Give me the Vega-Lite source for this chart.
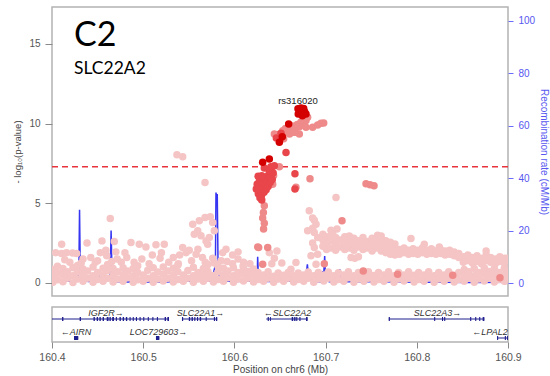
{
"$schema": "https://vega.github.io/schema/vega-lite/v6.json",
"padding": {"left": 12, "top": 6, "right": 0, "bottom": 0},
"background": "white",
"spacing": 9,
"config": {
  "view": {"stroke": "#b3b3b3", "strokeWidth": 1.5},
  "axis": {"labelFont": "Liberation Sans", "titleFont": "Liberation Sans", "titleFontWeight": "normal", "labelFlush": false, "grid": false, "domain": false},
  "font": "Liberation Sans"
},
"datasets": {
  "recomb": [
    {"p":160.400,"rate":0.6},{"p":160.410,"rate":0.8},{"p":160.420,"rate":0.7},{"p":160.428,"rate":1.0},
    {"p":160.4295,"rate":5},{"p":160.4302,"rate":28},{"p":160.4310,"rate":5.5},{"p":160.4318,"rate":1},
    {"p":160.440,"rate":0.6},{"p":160.450,"rate":0.8},{"p":160.4535,"rate":3.4},{"p":160.4545,"rate":0.8},
    {"p":160.4635,"rate":1.0},{"p":160.4642,"rate":9.5},{"p":160.4648,"rate":20},{"p":160.4655,"rate":9},{"p":160.4662,"rate":1.2},
    {"p":160.470,"rate":0.5},{"p":160.480,"rate":0.4},{"p":160.490,"rate":0.5},{"p":160.500,"rate":0.4},{"p":160.510,"rate":0.5},
    {"p":160.520,"rate":0.3},{"p":160.530,"rate":0.5},{"p":160.540,"rate":0.6},{"p":160.550,"rate":0.8},{"p":160.560,"rate":0.7},
    {"p":160.5655,"rate":1.0},{"p":160.5662,"rate":4},{"p":160.5670,"rate":0.8},{"p":160.575,"rate":0.9},
    {"p":160.5792,"rate":7},{"p":160.5798,"rate":34.5},{"p":160.5806,"rate":33},{"p":160.5812,"rate":34},{"p":160.5820,"rate":9},
    {"p":160.5826,"rate":8},{"p":160.5832,"rate":1},{"p":160.590,"rate":0.8},{"p":160.600,"rate":0.6},{"p":160.610,"rate":0.7},
    {"p":160.620,"rate":0.8},{"p":160.6250,"rate":1},{"p":160.6255,"rate":10},{"p":160.6260,"rate":5.5},{"p":160.6265,"rate":1},
    {"p":160.635,"rate":0.6},{"p":160.645,"rate":0.6},{"p":160.655,"rate":0.8},{"p":160.665,"rate":0.6},{"p":160.6668,"rate":2},
    {"p":160.6680,"rate":0.6},{"p":160.677,"rate":0.7},{"p":160.6785,"rate":2.7},{"p":160.6800,"rate":7.1},{"p":160.6815,"rate":2},
    {"p":160.690,"rate":0.5},{"p":160.6960,"rate":0.5},{"p":160.6968,"rate":4.6},{"p":160.6975,"rate":0.5},{"p":160.6990,"rate":10.3},
    {"p":160.7000,"rate":0.5},{"p":160.7030,"rate":5.2},{"p":160.7040,"rate":0.5},{"p":160.7150,"rate":0.5},{"p":160.7155,"rate":5.3},
    {"p":160.7162,"rate":0.5},{"p":160.756,"rate":0.5},{"p":160.7565,"rate":3.9},{"p":160.7572,"rate":0.5},{"p":160.7845,"rate":0.4},
    {"p":160.7850,"rate":3.9},{"p":160.7858,"rate":0.4},{"p":160.800,"rate":0.3},{"p":160.830,"rate":0.3},{"p":160.860,"rate":0.2},{"p":160.900,"rate":0.3}
  ],
  "snps": [
    {"p":160.401,"l":0.05,"r":"a"},{"p":160.401,"l":0.42,"r":"a"},{"p":160.401,"l":0.85,"r":"a"},
    {"p":160.406,"l":0.2,"r":"a"},{"p":160.406,"l":0.62,"r":"a"},{"p":160.406,"l":1.05,"r":"a"},
    {"p":160.412,"l":0.08,"r":"a"},{"p":160.412,"l":0.5,"r":"a"},{"p":160.412,"l":0.9,"r":"a"},
    {"p":160.417,"l":0.3,"r":"a"},{"p":160.417,"l":0.7,"r":"a"},
    {"p":160.423,"l":0.02,"r":"a"},{"p":160.423,"l":0.45,"r":"a"},{"p":160.423,"l":0.95,"r":"a"},
    {"p":160.428,"l":0.25,"r":"a"},{"p":160.428,"l":0.68,"r":"a"},{"p":160.428,"l":1.1,"r":"a"},
    {"p":160.434,"l":0.1,"r":"a"},{"p":160.434,"l":0.5,"r":"a"},{"p":160.434,"l":0.88,"r":"a"},
    {"p":160.439,"l":0.3,"r":"a"},{"p":160.439,"l":0.75,"r":"a"},
    {"p":160.445,"l":0.05,"r":"a"},{"p":160.445,"l":0.45,"r":"a"},{"p":160.445,"l":1.0,"r":"a"},
    {"p":160.450,"l":0.22,"r":"a"},{"p":160.450,"l":0.65,"r":"a"},
    {"p":160.456,"l":0.1,"r":"a"},{"p":160.456,"l":0.5,"r":"a"},{"p":160.456,"l":0.92,"r":"a"},
    {"p":160.461,"l":0.3,"r":"a"},{"p":160.461,"l":0.78,"r":"a"},{"p":160.461,"l":1.15,"r":"a"},
    {"p":160.467,"l":0.06,"r":"a"},{"p":160.467,"l":0.48,"r":"a"},{"p":160.467,"l":0.9,"r":"a"},
    {"p":160.472,"l":0.25,"r":"a"},{"p":160.472,"l":0.7,"r":"a"},
    {"p":160.478,"l":0.1,"r":"a"},{"p":160.478,"l":0.52,"r":"a"},{"p":160.478,"l":0.95,"r":"a"},
    {"p":160.483,"l":0.32,"r":"a"},{"p":160.483,"l":0.75,"r":"a"},
    {"p":160.489,"l":0.04,"r":"a"},{"p":160.489,"l":0.45,"r":"a"},{"p":160.489,"l":0.9,"r":"a"},
    {"p":160.494,"l":0.2,"r":"a"},{"p":160.494,"l":0.66,"r":"a"},{"p":160.494,"l":1.08,"r":"a"},
    {"p":160.500,"l":0.1,"r":"a"},{"p":160.500,"l":0.5,"r":"a"},
    {"p":160.505,"l":0.3,"r":"a"},{"p":160.505,"l":0.8,"r":"a"},
    {"p":160.511,"l":0.05,"r":"a"},{"p":160.511,"l":0.45,"r":"a"},{"p":160.511,"l":0.95,"r":"a"},
    {"p":160.516,"l":0.25,"r":"a"},{"p":160.516,"l":0.68,"r":"a"},
    {"p":160.522,"l":0.12,"r":"a"},{"p":160.522,"l":0.55,"r":"a"},{"p":160.522,"l":1.0,"r":"a"},
    {"p":160.527,"l":0.3,"r":"a"},{"p":160.527,"l":0.75,"r":"a"},
    {"p":160.533,"l":0.06,"r":"a"},{"p":160.533,"l":0.48,"r":"a"},{"p":160.533,"l":0.92,"r":"a"},
    {"p":160.538,"l":0.22,"r":"a"},{"p":160.538,"l":0.7,"r":"a"},{"p":160.538,"l":1.12,"r":"a"},
    {"p":160.544,"l":0.1,"r":"a"},{"p":160.544,"l":0.5,"r":"a"},
    {"p":160.549,"l":0.3,"r":"a"},{"p":160.549,"l":0.78,"r":"a"},
    {"p":160.555,"l":0.05,"r":"a"},{"p":160.555,"l":0.45,"r":"a"},{"p":160.555,"l":0.98,"r":"a"},
    {"p":160.560,"l":0.25,"r":"a"},{"p":160.560,"l":0.65,"r":"a"},
    {"p":160.566,"l":0.1,"r":"a"},{"p":160.566,"l":0.52,"r":"a"},{"p":160.566,"l":0.9,"r":"a"},
    {"p":160.571,"l":0.3,"r":"a"},{"p":160.571,"l":0.72,"r":"a"},{"p":160.571,"l":1.15,"r":"a"},
    {"p":160.577,"l":0.06,"r":"a"},{"p":160.577,"l":0.46,"r":"a"},
    {"p":160.582,"l":0.22,"r":"a"},{"p":160.582,"l":0.68,"r":"a"},{"p":160.582,"l":1.05,"r":"a"},
    {"p":160.588,"l":0.1,"r":"a"},{"p":160.588,"l":0.5,"r":"a"},{"p":160.588,"l":0.92,"r":"a"},
    {"p":160.593,"l":0.32,"r":"a"},{"p":160.593,"l":0.75,"r":"a"},
    {"p":160.599,"l":0.05,"r":"a"},{"p":160.599,"l":0.45,"r":"a"},{"p":160.599,"l":0.95,"r":"a"},
    {"p":160.604,"l":0.25,"r":"a"},{"p":160.604,"l":0.65,"r":"a"},
    {"p":160.610,"l":0.12,"r":"a"},{"p":160.610,"l":0.55,"r":"a"},{"p":160.610,"l":0.9,"r":"a"},
    {"p":160.615,"l":0.3,"r":"a"},{"p":160.615,"l":0.72,"r":"a"},
    {"p":160.621,"l":0.06,"r":"a"},{"p":160.621,"l":0.48,"r":"a"},{"p":160.621,"l":0.88,"r":"a"},
    {"p":160.626,"l":0.22,"r":"a"},{"p":160.626,"l":0.66,"r":"a"},
    {"p":160.632,"l":0.1,"r":"a"},{"p":160.632,"l":0.5,"r":"a"},
    {"p":160.637,"l":0.3,"r":"a"},{"p":160.637,"l":0.7,"r":"a"},
    {"p":160.643,"l":0.05,"r":"a"},{"p":160.643,"l":0.42,"r":"a"},
    {"p":160.648,"l":0.25,"r":"a"},{"p":160.648,"l":0.62,"r":"a"},
    {"p":160.654,"l":0.1,"r":"a"},{"p":160.654,"l":0.48,"r":"a"},
    {"p":160.659,"l":0.3,"r":"a"},{"p":160.659,"l":0.66,"r":"a"},
    {"p":160.665,"l":0.06,"r":"a"},{"p":160.665,"l":0.45,"r":"a"},
    {"p":160.670,"l":0.22,"r":"a"},{"p":160.670,"l":0.62,"r":"a"},
    {"p":160.676,"l":0.1,"r":"a"},{"p":160.676,"l":0.5,"r":"a"},
    {"p":160.681,"l":0.3,"r":"a"},{"p":160.681,"l":0.68,"r":"a"},
    {"p":160.687,"l":0.05,"r":"a"},{"p":160.687,"l":0.45,"r":"a"},
    {"p":160.692,"l":0.25,"r":"a"},{"p":160.692,"l":0.65,"r":"a"},
    {"p":160.698,"l":0.12,"r":"a"},{"p":160.698,"l":0.5,"r":"a"},
    {"p":160.703,"l":0.3,"r":"a"},{"p":160.703,"l":0.68,"r":"a"},
    {"p":160.709,"l":0.06,"r":"a"},{"p":160.709,"l":0.45,"r":"a"},
    {"p":160.714,"l":0.22,"r":"a"},{"p":160.714,"l":0.64,"r":"a"},
    {"p":160.720,"l":0.1,"r":"a"},{"p":160.720,"l":0.5,"r":"a"},
    {"p":160.725,"l":0.32,"r":"a"},{"p":160.725,"l":0.7,"r":"a"},
    {"p":160.731,"l":0.05,"r":"a"},{"p":160.731,"l":0.45,"r":"a"},
    {"p":160.736,"l":0.25,"r":"a"},{"p":160.736,"l":0.65,"r":"a"},
    {"p":160.742,"l":0.1,"r":"a"},{"p":160.742,"l":0.5,"r":"a"},
    {"p":160.747,"l":0.3,"r":"a"},{"p":160.747,"l":0.7,"r":"a"},
    {"p":160.753,"l":0.06,"r":"a"},{"p":160.753,"l":0.46,"r":"a"},
    {"p":160.758,"l":0.22,"r":"a"},{"p":160.758,"l":0.66,"r":"a"},
    {"p":160.764,"l":0.1,"r":"a"},{"p":160.764,"l":0.5,"r":"a"},
    {"p":160.769,"l":0.3,"r":"a"},{"p":160.769,"l":0.7,"r":"a"},
    {"p":160.775,"l":0.05,"r":"a"},{"p":160.775,"l":0.45,"r":"a"},
    {"p":160.780,"l":0.25,"r":"a"},{"p":160.780,"l":0.65,"r":"a"},
    {"p":160.786,"l":0.12,"r":"a"},{"p":160.786,"l":0.5,"r":"a"},
    {"p":160.791,"l":0.3,"r":"a"},{"p":160.791,"l":0.7,"r":"a"},
    {"p":160.797,"l":0.06,"r":"a"},{"p":160.797,"l":0.48,"r":"a"},
    {"p":160.802,"l":0.22,"r":"a"},{"p":160.802,"l":0.66,"r":"a"},
    {"p":160.808,"l":0.1,"r":"a"},{"p":160.808,"l":0.5,"r":"a"},
    {"p":160.813,"l":0.32,"r":"a"},{"p":160.813,"l":0.7,"r":"a"},
    {"p":160.819,"l":0.05,"r":"a"},{"p":160.819,"l":0.45,"r":"a"},
    {"p":160.824,"l":0.25,"r":"a"},{"p":160.824,"l":0.65,"r":"a"},
    {"p":160.830,"l":0.1,"r":"a"},{"p":160.830,"l":0.5,"r":"a"},
    {"p":160.835,"l":0.3,"r":"a"},{"p":160.835,"l":0.7,"r":"a"},
    {"p":160.841,"l":0.06,"r":"a"},{"p":160.841,"l":0.46,"r":"a"},
    {"p":160.846,"l":0.22,"r":"a"},{"p":160.846,"l":0.66,"r":"a"},
    {"p":160.852,"l":0.1,"r":"a"},{"p":160.852,"l":0.5,"r":"a"},{"p":160.852,"l":0.85,"r":"a"},
    {"p":160.857,"l":0.3,"r":"a"},{"p":160.857,"l":0.7,"r":"a"},
    {"p":160.863,"l":0.05,"r":"a"},{"p":160.863,"l":0.45,"r":"a"},{"p":160.863,"l":0.9,"r":"a"},
    {"p":160.868,"l":0.25,"r":"a"},{"p":160.868,"l":0.65,"r":"a"},
    {"p":160.874,"l":0.12,"r":"a"},{"p":160.874,"l":0.55,"r":"a"},{"p":160.874,"l":0.95,"r":"a"},
    {"p":160.879,"l":0.3,"r":"a"},{"p":160.879,"l":0.72,"r":"a"},
    {"p":160.885,"l":0.06,"r":"a"},{"p":160.885,"l":0.48,"r":"a"},{"p":160.885,"l":0.9,"r":"a"},
    {"p":160.890,"l":0.22,"r":"a"},{"p":160.890,"l":0.66,"r":"a"},
    {"p":160.896,"l":0.1,"r":"a"},{"p":160.896,"l":0.5,"r":"a"},{"p":160.896,"l":0.92,"r":"a"},
    {"p":160.899,"l":0.3,"r":"a"},{"p":160.899,"l":0.75,"r":"a"},

    {"p":160.4040,"l":1.9,"r":"a"},{"p":160.4106,"l":2.43,"r":"a"},{"p":160.4105,"l":1.85,"r":"a"},{"p":160.4160,"l":1.9,"r":"a"},
    {"p":160.4225,"l":1.88,"r":"a"},{"p":160.4270,"l":1.85,"r":"a"},{"p":160.4340,"l":1.5,"r":"a"},{"p":160.4384,"l":2.5,"r":"a"},
    {"p":160.4425,"l":1.6,"r":"a"},{"p":160.4475,"l":1.3,"r":"a"},{"p":160.4548,"l":2.64,"r":"a"},{"p":160.4600,"l":1.7,"r":"a"},
    {"p":160.4590,"l":2.05,"r":"a"},{"p":160.4639,"l":4.05,"r":"a"},{"p":160.4655,"l":1.35,"r":"a"},{"p":160.4683,"l":2.6,"r":"a"},
    {"p":160.4700,"l":1.95,"r":"a"},{"p":160.4715,"l":1.5,"r":"a"},{"p":160.4760,"l":1.3,"r":"a"},{"p":160.4820,"l":1.6,"r":"a"},
    {"p":160.4866,"l":2.54,"r":"a"},{"p":160.4900,"l":1.3,"r":"a"},{"p":160.4957,"l":2.43,"r":"a"},{"p":160.4985,"l":1.5,"r":"a"},
    {"p":160.5030,"l":2.26,"r":"a"},{"p":160.5065,"l":1.2,"r":"a"},{"p":160.5140,"l":2.39,"r":"a"},{"p":160.5185,"l":1.55,"r":"a"},
    {"p":160.5231,"l":2.43,"r":"a"},{"p":160.5280,"l":1.3,"r":"a"},{"p":160.5330,"l":1.6,"r":"a"},{"p":160.5385,"l":1.2,"r":"a"},
    {"p":160.5433,"l":2.22,"r":"a"},{"p":160.5470,"l":1.9,"r":"a"},{"p":160.5505,"l":2.05,"r":"a"},{"p":160.5543,"l":3.69,"r":"a"},
    {"p":160.5560,"l":3.06,"r":"a"},{"p":160.5615,"l":3.9,"r":"a"},{"p":160.5598,"l":3.27,"r":"a"},{"p":160.5634,"l":2.96,"r":"a"},
    {"p":160.5678,"l":4.1,"r":"a"},{"p":160.5736,"l":4.15,"r":"a"},{"p":160.5762,"l":3.79,"r":"a"},{"p":160.5780,"l":3.27,"r":"a"},
    {"p":160.5689,"l":2.64,"r":"a"},{"p":160.5707,"l":2.43,"r":"a"},{"p":160.5725,"l":2.85,"r":"a"},{"p":160.5908,"l":2.12,"r":"a"},
    {"p":160.5872,"l":1.9,"r":"a"},{"p":160.5762,"l":1.55,"r":"a"},{"p":160.5600,"l":2.12,"r":"a"},{"p":160.5580,"l":1.8,"r":"a"},
    {"p":160.5650,"l":1.6,"r":"a"},{"p":160.5530,"l":1.4,"r":"a"},{"p":160.5680,"l":1.3,"r":"a"},{"p":160.5780,"l":1.25,"r":"a"},
    {"p":160.5855,"l":1.4,"r":"a"},{"p":160.5920,"l":1.35,"r":"a"},{"p":160.5980,"l":1.2,"r":"a"},{"p":160.6040,"l":1.5,"r":"a"},
    {"p":160.6100,"l":1.3,"r":"a"},{"p":160.6170,"l":1.2,"r":"a"},{"p":160.6095,"l":1.07,"r":"a"},{"p":160.5370,"l":8.05,"r":"a"},
    {"p":160.5433,"l":7.92,"r":"a"},{"p":160.5678,"l":6.31,"r":"a"},{"p":160.4140,"l":1.45,"r":"a"},{"p":160.4195,"l":1.3,"r":"a"},
    {"p":160.4320,"l":1.25,"r":"a"},{"p":160.4500,"l":1.4,"r":"a"},{"p":160.4530,"l":1.9,"r":"a"},{"p":160.4800,"l":1.9,"r":"a"},
    {"p":160.5100,"l":1.75,"r":"a"},{"p":160.5200,"l":1.9,"r":"a"},{"p":160.5400,"l":1.75,"r":"a"},{"p":160.5980,"l":1.75,"r":"a"},
    {"p":160.6040,"l":1.95,"r":"a"},{"p":160.6383,"l":1.9,"r":"a"},{"p":160.6438,"l":1.55,"r":"a"},{"p":160.6410,"l":1.2,"r":"a"},
    {"p":160.6466,"l":2.0,"r":"a"},{"p":160.6520,"l":1.25,"r":"a"},

    {"p":160.6821,"l":4.53,"r":"a"},{"p":160.6858,"l":4.07,"r":"a"},{"p":160.6876,"l":3.94,"r":"a"},{"p":160.6895,"l":3.69,"r":"a"},
    {"p":160.6858,"l":3.44,"r":"a"},{"p":160.6876,"l":3.16,"r":"a"},{"p":160.6803,"l":3.27,"r":"a"},{"p":160.6913,"l":2.85,"r":"a"},
    {"p":160.6876,"l":2.22,"r":"a"},{"p":160.6858,"l":2.5,"r":"a"},{"p":160.6913,"l":1.8,"r":"a"},{"p":160.6840,"l":1.7,"r":"a"},
    {"p":160.6675,"l":1.28,"r":"a"},{"p":160.6620,"l":0.86,"r":"a"},{"p":160.6895,"l":1.17,"r":"a"},{"p":160.7059,"l":3.31,"r":"a"},
    {"p":160.7125,"l":3.38,"r":"a"},{"p":160.7114,"l":5.37,"r":"a"},{"p":160.7078,"l":3.1,"r":"a"},{"p":160.7279,"l":1.6,"r":"a"},
    {"p":160.7320,"l":1.55,"r":"a"},{"p":160.7360,"l":1.65,"r":"a"},{"p":160.7936,"l":2.79,"r":"a"},{"p":160.8082,"l":2.43,"r":"a"},
    {"p":160.8247,"l":2.26,"r":"a"},{"p":160.8760,"l":2.01,"r":"a"},{"p":160.8980,"l":1.55,"r":"a"},{"p":160.7570,"l":3.0,"r":"a"},
    {"p":160.7610,"l":2.95,"r":"a"},

    {"p":160.697,"l":2.3,"r":"a"},{"p":160.697,"l":2.7,"r":"a"},{"p":160.697,"l":3.05,"r":"a"},
    {"p":160.701,"l":2.1,"r":"a"},{"p":160.701,"l":2.5,"r":"a"},{"p":160.701,"l":2.9,"r":"a"},
    {"p":160.706,"l":2.2,"r":"a"},{"p":160.706,"l":2.65,"r":"a"},{"p":160.706,"l":3.0,"r":"a"},
    {"p":160.711,"l":2.05,"r":"a"},{"p":160.711,"l":2.45,"r":"a"},{"p":160.711,"l":2.85,"r":"a"},
    {"p":160.716,"l":2.25,"r":"a"},{"p":160.716,"l":2.7,"r":"a"},
    {"p":160.721,"l":2.1,"r":"a"},{"p":160.721,"l":2.5,"r":"a"},{"p":160.721,"l":2.9,"r":"a"},
    {"p":160.726,"l":2.2,"r":"a"},{"p":160.726,"l":2.6,"r":"a"},{"p":160.726,"l":2.95,"r":"a"},
    {"p":160.731,"l":2.05,"r":"a"},{"p":160.731,"l":2.45,"r":"a"},{"p":160.731,"l":2.8,"r":"a"},
    {"p":160.736,"l":2.25,"r":"a"},{"p":160.736,"l":2.65,"r":"a"},
    {"p":160.741,"l":2.1,"r":"a"},{"p":160.741,"l":2.5,"r":"a"},{"p":160.741,"l":2.85,"r":"a"},
    {"p":160.746,"l":2.2,"r":"a"},{"p":160.746,"l":2.6,"r":"a"},
    {"p":160.751,"l":2.0,"r":"a"},{"p":160.751,"l":2.4,"r":"a"},{"p":160.751,"l":2.8,"r":"a"},
    {"p":160.756,"l":2.2,"r":"a"},{"p":160.756,"l":2.6,"r":"a"},
    {"p":160.761,"l":2.0,"r":"a"},{"p":160.761,"l":2.4,"r":"a"},{"p":160.761,"l":2.75,"r":"a"},
    {"p":160.766,"l":1.9,"r":"a"},{"p":160.766,"l":2.3,"r":"a"},{"p":160.766,"l":2.65,"r":"a"},
    {"p":160.771,"l":1.8,"r":"a"},{"p":160.771,"l":2.2,"r":"a"},{"p":160.771,"l":2.55,"r":"a"},
    {"p":160.776,"l":1.75,"r":"a"},{"p":160.776,"l":2.1,"r":"a"},{"p":160.776,"l":2.45,"r":"a"},
    {"p":160.781,"l":1.8,"r":"a"},{"p":160.781,"l":2.1,"r":"a"},
    {"p":160.786,"l":1.9,"r":"a"},{"p":160.786,"l":2.2,"r":"a"},
    {"p":160.791,"l":1.8,"r":"a"},{"p":160.791,"l":2.05,"r":"a"},
    {"p":160.796,"l":1.85,"r":"a"},{"p":160.796,"l":2.15,"r":"a"},
    {"p":160.801,"l":1.8,"r":"a"},{"p":160.801,"l":2.05,"r":"a"},
    {"p":160.806,"l":1.9,"r":"a"},{"p":160.806,"l":2.2,"r":"a"},
    {"p":160.811,"l":1.8,"r":"a"},{"p":160.811,"l":2.05,"r":"a"},
    {"p":160.816,"l":1.85,"r":"a"},{"p":160.816,"l":2.15,"r":"a"},
    {"p":160.821,"l":1.8,"r":"a"},{"p":160.821,"l":2.0,"r":"a"},
    {"p":160.826,"l":1.85,"r":"a"},{"p":160.826,"l":2.1,"r":"a"},
    {"p":160.831,"l":1.75,"r":"a"},{"p":160.831,"l":2.0,"r":"a"},
    {"p":160.836,"l":1.8,"r":"a"},{"p":160.836,"l":2.05,"r":"a"},
    {"p":160.841,"l":1.7,"r":"a"},{"p":160.841,"l":1.95,"r":"a"},
    {"p":160.846,"l":1.6,"r":"a"},{"p":160.846,"l":1.85,"r":"a"},
    {"p":160.851,"l":1.3,"r":"a"},{"p":160.851,"l":1.65,"r":"a"},
    {"p":160.856,"l":1.4,"r":"a"},{"p":160.856,"l":1.75,"r":"a"},
    {"p":160.861,"l":1.25,"r":"a"},{"p":160.861,"l":1.6,"r":"a"},
    {"p":160.866,"l":1.35,"r":"a"},{"p":160.866,"l":1.7,"r":"a"},
    {"p":160.871,"l":1.2,"r":"a"},{"p":160.871,"l":1.55,"r":"a"},
    {"p":160.876,"l":1.4,"r":"a"},{"p":160.876,"l":1.75,"r":"a"},
    {"p":160.881,"l":1.3,"r":"a"},{"p":160.881,"l":1.6,"r":"a"},
    {"p":160.886,"l":1.2,"r":"a"},{"p":160.886,"l":1.5,"r":"a"},
    {"p":160.891,"l":1.35,"r":"a"},{"p":160.891,"l":1.65,"r":"a"},
    {"p":160.896,"l":1.25,"r":"a"},{"p":160.896,"l":1.55,"r":"a"},

    {"p":160.6328,"l":4.84,"r":"b"},{"p":160.6318,"l":4.42,"r":"b"},{"p":160.6310,"l":4.07,"r":"b"},{"p":160.6328,"l":3.75,"r":"b"},
    {"p":160.6320,"l":3.38,"r":"b"},{"p":160.6266,"l":2.22,"r":"b"},{"p":160.6365,"l":2.22,"r":"b"},{"p":160.6310,"l":1.17,"r":"b"},
    {"p":160.6255,"l":2.26,"r":"b"},{"p":160.6986,"l":1.21,"r":"b"},{"p":160.7413,"l":0.75,"r":"b"},{"p":160.7790,"l":0.55,"r":"b"},
    {"p":160.8394,"l":0.48,"r":"b"},{"p":160.8912,"l":0.33,"r":"b"},{"p":160.7180,"l":3.9,"r":"b"},
    {"p":160.6829,"l":6.54,"r":"b"},{"p":160.6675,"l":6.0,"r":"b"},{"p":160.7443,"l":6.23,"r":"b"},{"p":160.7487,"l":6.16,"r":"b"},
    {"p":160.7531,"l":6.1,"r":"b"},{"p":160.6493,"l":7.3,"r":"b"},{"p":160.6395,"l":7.1,"r":"b"},{"p":160.6420,"l":6.2,"r":"b"},
    {"p":160.6430,"l":6.75,"r":"b"},

    {"p":160.6240,"l":5.9,"r":"c"},{"p":160.6250,"l":6.2,"r":"c"},{"p":160.6262,"l":5.6,"r":"c"},{"p":160.6268,"l":6.0,"r":"c"},
    {"p":160.6275,"l":6.4,"r":"c"},{"p":160.6282,"l":5.8,"r":"c"},{"p":160.6290,"l":6.2,"r":"c"},{"p":160.6298,"l":5.5,"r":"c"},
    {"p":160.6305,"l":6.6,"r":"c"},{"p":160.6310,"l":5.95,"r":"c"},{"p":160.6318,"l":6.3,"r":"c"},{"p":160.6325,"l":5.7,"r":"c"},
    {"p":160.6332,"l":6.1,"r":"c"},{"p":160.6340,"l":6.5,"r":"c"},{"p":160.6348,"l":5.85,"r":"c"},{"p":160.6355,"l":6.25,"r":"c"},
    {"p":160.6362,"l":6.7,"r":"c"},{"p":160.6370,"l":6.05,"r":"c"},{"p":160.6378,"l":6.45,"r":"c"},{"p":160.6385,"l":6.85,"r":"c"},
    {"p":160.6392,"l":6.3,"r":"c"},{"p":160.6400,"l":6.65,"r":"c"},{"p":160.6408,"l":7.0,"r":"c"},{"p":160.6415,"l":6.5,"r":"c"},
    {"p":160.6425,"l":6.9,"r":"c"},{"p":160.6280,"l":5.35,"r":"c"},{"p":160.6300,"l":5.2,"r":"c"},{"p":160.6260,"l":6.7,"r":"c"},
    {"p":160.6328,"l":7.21,"r":"c"},{"p":160.6400,"l":7.3,"r":"c"},{"p":160.6438,"l":7.36,"r":"c"},{"p":160.6300,"l":6.73,"r":"c"},
    {"p":160.6380,"l":7.05,"r":"c"},{"p":160.6566,"l":8.18,"r":"c"},{"p":160.6664,"l":6.86,"r":"c"},{"p":160.6664,"l":5.9,"r":"c"},
    {"p":160.6310,"l":7.57,"r":"d"},{"p":160.6383,"l":7.78,"r":"d"},

    {"p":160.6438,"l":9.35,"r":"b"},{"p":160.6460,"l":9.1,"r":"c"},{"p":160.6482,"l":9.31,"r":"b"},{"p":160.6511,"l":9.39,"r":"c"},
    {"p":160.6530,"l":9.55,"r":"b"},{"p":160.6547,"l":9.45,"r":"b"},{"p":160.6560,"l":9.7,"r":"b"},{"p":160.6584,"l":9.52,"r":"b"},
    {"p":160.6605,"l":9.35,"r":"b"},{"p":160.6621,"l":9.6,"r":"b"},{"p":160.6640,"l":9.85,"r":"b"},{"p":160.6650,"l":9.66,"r":"b"},
    {"p":160.6660,"l":9.45,"r":"b"},{"p":160.6675,"l":9.73,"r":"b"},{"p":160.6690,"l":9.95,"r":"b"},{"p":160.6712,"l":9.81,"r":"b"},
    {"p":160.6712,"l":9.35,"r":"b"},{"p":160.6730,"l":10.1,"r":"b"},{"p":160.6749,"l":9.92,"r":"b"},{"p":160.6766,"l":10.02,"r":"b"},
    {"p":160.6785,"l":10.19,"r":"b"},{"p":160.6785,"l":9.77,"r":"b"},{"p":160.6803,"l":10.4,"r":"b"},{"p":160.6858,"l":9.77,"r":"b"},
    {"p":160.6913,"l":9.92,"r":"b"},{"p":160.6950,"l":10.02,"r":"b"},{"p":160.6979,"l":10.04,"r":"b"},{"p":160.6540,"l":9.05,"r":"b"},
    {"p":160.6500,"l":9.0,"r":"c"},
    {"p":160.6493,"l":8.83,"r":"d"},{"p":160.6525,"l":9.18,"r":"d"},{"p":160.6595,"l":9.98,"r":"d"},
    {"p":160.6697,"l":10.94,"r":"d"},{"p":160.6730,"l":10.98,"r":"d"},{"p":160.6752,"l":10.9,"r":"d"},{"p":160.6770,"l":10.75,"r":"d"},
    {"p":160.6785,"l":10.6,"r":"d"},{"p":160.6720,"l":10.65,"r":"d"},{"p":160.6745,"l":10.5,"r":"d"},{"p":160.6700,"l":10.6,"r":"d"},
    {"p":160.6760,"l":10.95,"r":"d"},{"p":160.6735,"l":10.75,"r":"c"}
  ],
  "genes": [
    {"s":160.4000,"e":160.5283,"row":1,"label":"IGF2R→","lx":160.4592},
    {"s":160.5425,"e":160.5812,"row":1,"label":"SLC22A1→","lx":160.5628},
    {"s":160.6350,"e":160.6803,"row":1,"label":"←SLC22A2","lx":160.6582},
    {"s":160.7692,"e":160.8741,"row":1,"label":"SLC22A3→","lx":160.8227},
    {"s":160.4241,"e":160.4288,"row":2,"label":"←AIRN","lx":160.4263},
    {"s":160.5140,"e":160.5177,"row":2,"label":"LOC729603→","lx":160.5168},
    {"s":160.8880,"e":160.9000,"row":2,"label":"←LPAL2","lx":160.8803}
  ],
  "exons": [
    {"s":160.4110,"e":160.4125,"row":1},{"s":160.4303,"e":160.4318,"row":1},{"s":160.4455,"e":160.4470,"row":1},{"s":160.4490,"e":160.4505,"row":1},
    {"s":160.4520,"e":160.4535,"row":1},{"s":160.4555,"e":160.4570,"row":1},{"s":160.4600,"e":160.4620,"row":1},{"s":160.4630,"e":160.4645,"row":1},
    {"s":160.4660,"e":160.4680,"row":1},{"s":160.4700,"e":160.4712,"row":1},{"s":160.4740,"e":160.4755,"row":1},{"s":160.4775,"e":160.4790,"row":1},
    {"s":160.4810,"e":160.4825,"row":1},{"s":160.4850,"e":160.4862,"row":1},{"s":160.4885,"e":160.4897,"row":1},{"s":160.4920,"e":160.4932,"row":1},
    {"s":160.4960,"e":160.4972,"row":1},{"s":160.5000,"e":160.5012,"row":1},{"s":160.5050,"e":160.5062,"row":1},{"s":160.5100,"e":160.5112,"row":1},
    {"s":160.5150,"e":160.5162,"row":1},{"s":160.5235,"e":160.5250,"row":1},{"s":160.5265,"e":160.5283,"row":1},
    {"s":160.5425,"e":160.5438,"row":1},{"s":160.5500,"e":160.5515,"row":1},{"s":160.5530,"e":160.5545,"row":1},{"s":160.5560,"e":160.5572,"row":1},
    {"s":160.5590,"e":160.5602,"row":1},{"s":160.5620,"e":160.5635,"row":1},{"s":160.5685,"e":160.5697,"row":1},{"s":160.5775,"e":160.5788,"row":1},
    {"s":160.5798,"e":160.5812,"row":1},
    {"s":160.6365,"e":160.6378,"row":1},{"s":160.6390,"e":160.6400,"row":1},{"s":160.6628,"e":160.6645,"row":1},{"s":160.6655,"e":160.6670,"row":1},
    {"s":160.6678,"e":160.6690,"row":1},{"s":160.6712,"e":160.6725,"row":1},{"s":160.6785,"e":160.6803,"row":1},
    {"s":160.7692,"e":160.7705,"row":1},{"s":160.8190,"e":160.8202,"row":1},{"s":160.8276,"e":160.8288,"row":1},{"s":160.8300,"e":160.8312,"row":1},
    {"s":160.8585,"e":160.8597,"row":1},{"s":160.8640,"e":160.8652,"row":1},{"s":160.8684,"e":160.8696,"row":1},{"s":160.8722,"e":160.8741,"row":1},
    {"s":160.4241,"e":160.4288,"row":2},{"s":160.5140,"e":160.5177,"row":2},
    {"s":160.8880,"e":160.8892,"row":2},{"s":160.8965,"e":160.8977,"row":2},{"s":160.8990,"e":160.9000,"row":2}
  ]
},
"vconcat": [
  {
    "width": 456,
    "height": 289,
    "layer": [
      {
        "data": {"name": "recomb"},
        "mark": {"type": "line", "color": "#3636f2", "strokeWidth": 1.5, "clip": true},
        "encoding": {
          "x": {"field": "p", "type": "quantitative", "scale": {"domain": [160.4, 160.9], "nice": false, "zero": false}, "axis": null},
          "y": {"field": "rate", "type": "quantitative", "scale": {"domain": [-4.96, 105.34], "nice": false, "zero": false},
                "axis": {"orient": "right", "values": [0, 20, 40, 60, 80, 100], "title": "Recombination rate (cM/Mb)",
                         "tickColor": "#6b6bff", "labelColor": "#5757f0", "titleColor": "#5757f0", "tickSize": 5, "labelPadding": 5,
                         "titlePadding": 4, "labelFontSize": 10, "titleFontSize": 10}}
        }
      },
      {
        "layer": [
          {
            "data": {"values": [{"l": 7.3}]},
            "mark": {"type": "rule", "color": "#e8323c", "strokeDash": [6, 4], "strokeWidth": 1.5},
            "encoding": {"y": {"field": "l", "type": "quantitative"}}
          },
          {
            "data": {"name": "snps"},
            "mark": {"type": "circle", "size": 56, "opacity": 1, "clip": true},
            "encoding": {
              "x": {"field": "p", "type": "quantitative", "scale": {"domain": [160.4, 160.9], "nice": false, "zero": false}, "axis": null},
              "y": {"field": "l", "type": "quantitative", "scale": {"domain": [-0.82, 17.32], "nice": false, "zero": false},
                    "axis": {"orient": "left", "values": [0, 5, 10, 15], "title": "- log₁₀(p-value)", "tickColor": "#8a8a8a",
                             "tickSize": 7, "labelPadding": 5, "labelColor": "#555555", "labelFontSize": 10,
                             "titleColor": "#444444", "titleFontSize": 9.5, "titlePadding": 6}},
              "color": {"field": "r", "type": "nominal", "scale": {"domain": ["a", "b", "c", "d"], "range": ["#f5c4c4", "#ef8a8a", "#e8464b", "#d40000"]}, "legend": null},
              "order": {"field": "r", "type": "nominal"}
            }
          },
          {
            "data": {"values": [{"p": 160.4241, "l": 14.88, "txt": "C2"}]},
            "mark": {"type": "text", "font": "Lato", "fontSize": 34, "align": "left", "baseline": "alphabetic", "color": "#000000"},
            "encoding": {"x": {"field": "p", "type": "quantitative"}, "y": {"field": "l", "type": "quantitative"}, "text": {"field": "txt"}}
          },
          {
            "data": {"values": [{"p": 160.4241, "l": 13.12, "txt": "SLC22A2"}]},
            "mark": {"type": "text", "font": "Lato", "fontSize": 17.5, "align": "left", "baseline": "alphabetic", "color": "#000000"},
            "encoding": {"x": {"field": "p", "type": "quantitative"}, "y": {"field": "l", "type": "quantitative"}, "text": {"field": "txt"}}
          },
          {
            "data": {"values": [{"p": 160.6697, "l": 11.24, "txt": "rs316020"}]},
            "mark": {"type": "text", "font": "Liberation Sans", "fontSize": 9.5, "align": "center", "baseline": "alphabetic", "color": "#222222"},
            "encoding": {"x": {"field": "p", "type": "quantitative"}, "y": {"field": "l", "type": "quantitative"}, "text": {"field": "txt"}}
          }
        ]
      }
    ],
    "resolve": {"scale": {"y": "independent"}}
  },
  {
    "width": 456,
    "height": 35,
    "layer": [
      {
        "data": {"name": "genes"},
        "mark": {"type": "rule", "color": "#1f1f8f", "strokeWidth": 1},
        "encoding": {
          "x": {"field": "s", "type": "quantitative", "scale": {"domain": [160.4, 160.9], "nice": false, "zero": false},
                "axis": {"values": [160.4, 160.5, 160.6, 160.7, 160.8, 160.9], "format": ".1f", "title": "Position on chr6 (Mb)",
                         "tickColor": "#8a8a8a", "tickSize": 6, "labelPadding": 4, "labelFontSize": 10.5, "labelColor": "#555555",
                         "titleFontSize": 10, "titleColor": "#444444", "titlePadding": 2}},
          "x2": {"field": "e"},
          "y": {"field": "row", "type": "quantitative", "scale": {"domain": [0.368, 2.21], "reverse": true, "nice": false, "zero": false}, "axis": null}
        }
      },
      {
        "data": {"name": "exons"},
        "mark": {"type": "rule", "color": "#1f1f8f", "strokeWidth": 4, "strokeCap": "butt"},
        "encoding": {
          "x": {"field": "s", "type": "quantitative"},
          "x2": {"field": "e"},
          "y": {"field": "row", "type": "quantitative"}
        }
      },
      {
        "data": {"name": "genes"},
        "mark": {"type": "text", "font": "Liberation Sans", "fontStyle": "italic", "fontSize": 9, "color": "#333333", "dy": -6.5, "align": "center", "baseline": "middle"},
        "encoding": {
          "x": {"field": "lx", "type": "quantitative"},
          "y": {"field": "row", "type": "quantitative"},
          "text": {"field": "label"}
        }
      }
    ]
  }
]
}
